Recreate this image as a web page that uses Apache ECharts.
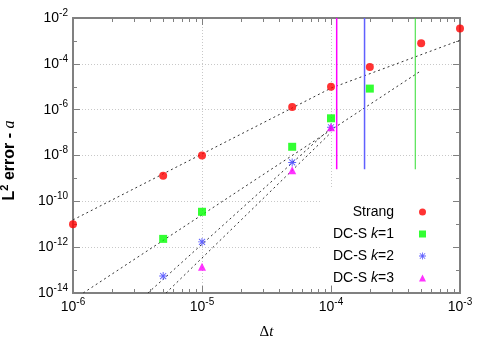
<!DOCTYPE html>
<html>
<head>
<meta charset="utf-8">
<script src="https://cdn.jsdelivr.net/npm/echarts@6/dist/echarts.min.js"></script>
<style>
html, body { margin: 0; padding: 0; background: #fff; }
#chart { width: 487px; height: 341px; }
</style>
</head>
<body>
<div id="chart"></div>
<script>
// 数据
const strangX = [1e-6, 5e-6, 1e-5, 5e-5, 1e-4, 2e-4, 5e-4, 1e-3];
const strangY = [1.0e-11, 1.3e-9, 1.0e-8, 1.3e-6, 1.0e-5, 7.2e-5, 8.0e-4, 3.5e-3];
const dcs1X = [5e-6, 1e-5, 5e-5, 1e-4, 2e-4];
const dcs1Y = [2.3e-12, 3.5e-11, 2.4e-8, 4.2e-7, 8.3e-6];
const dcs2X = [5e-6, 1e-5, 5e-5, 1e-4];
const dcs2Y = [5.5e-14, 1.7e-12, 5.0e-9, 1.7e-7];
const dcs3X = [1e-5, 5e-5, 1e-4];
const dcs3Y = [1.4e-13, 2.3e-9, 1.7e-7];

// 参考斜率线
const refStrangX = [1e-6, 1e-4, 1e-3];
const refStrangY = [1.55e-11, 8.7e-6, 1.07e-3];
const ref1X = [1.2e-6, 5e-4];
const ref1Y = [1e-14, 5.05e-5];
const ref2X = [3.81e-6, 1e-4];
const ref2Y = [1e-14, 1.6e-7];
const ref3X = [5.26e-6, 1e-4];
const ref3Y = [1e-14, 1e-7];

// 竖线 (稳定性限制)
const limitX = [1.107e-4, 1.82e-4, 4.5e-4];
const limitY = [1e-2, 2.5e-9];

const zip = (xs, ys) => xs.map((x, i) => [x, ys[i]]);

const FONT = 'Liberation Sans';
const AXIS_COLOR = '#808080';
const asterisk = 'path://M0,4.4H10V5.6H0Z M4.4,0H5.6V10H4.4Z M0.8,1.6L1.6,0.8L9.2,8.4L8.4,9.2Z M8.4,0.8L9.2,1.6L1.6,9.2L0.8,8.4Z';

const supLabel = (v) => {
    const e = Math.round(Math.log10(v));
    return '{b|10}{s|' + e + '}';
};
const labelRich = {
    b: { fontSize: 14, fontFamily: FONT, color: '#000', lineHeight: 20 },
    s: { fontSize: 10, fontFamily: FONT, color: '#000', verticalAlign: 'top', lineHeight: 10 }
};

const myChart = echarts.init(document.getElementById('chart'));

const refLine = (xs, ys) => ({
    type: 'line',
    data: zip(xs, ys),
    symbol: 'none',
    silent: true,
    z: 1,
    lineStyle: { color: '#333', width: 1, type: [2, 3] }
});
const vLine = (x, color, width) => ({
    type: 'line',
    data: limitY.map(y => [x, y]),
    symbol: 'none',
    silent: true,
    z: 1,
    lineStyle: { color: color, width: width }
});

const option = {
    animation: false,
    grid: { left: 73, right: 27, top: 18, bottom: 48, outerBoundsMode: 'none', containLabel: false },
    legend: {
        orient: 'vertical',
        align: 'right',
        right: 35,
        top: 189,
        padding: [16, 26, 0, 2],
        backgroundColor: '#fff',
        itemWidth: 7,
        itemHeight: 7,
        itemGap: 8,
        textStyle: {
            fontFamily: FONT, fontSize: 14, color: '#000', lineHeight: 14,
            width: 70, padding: [0, 20, 0, 0],
            rich: { i: { fontFamily: FONT, fontSize: 14, fontStyle: 'italic', color: '#000' } }
        },
        formatter: function (name) {
            return name.replace(/k=/, '{i|k}=');
        },
        data: ['Strang', 'DC-S k=1', 'DC-S k=2', 'DC-S k=3']
    },
    xAxis: [
        {
            type: 'log', position: 'bottom', min: 1e-6, max: 1e-3,
            name: '{d|Δ}{t|t}', nameLocation: 'middle', nameGap: 32,
            nameTextStyle: {
                rich: {
                    d: { fontSize: 15, fontFamily: 'Liberation Serif', color: '#000' },
                    t: { fontSize: 15, fontFamily: 'Liberation Serif', fontStyle: 'italic', color: '#000' }
                }
            },
            axisLine: { lineStyle: { color: AXIS_COLOR, width: 2 } },
            axisTick: { inside: true, length: 7, lineStyle: { color: AXIS_COLOR } },
            minorTick: { show: true, splitNumber: 9, length: 4, lineStyle: { color: AXIS_COLOR } },
            axisLabel: { margin: 4, formatter: supLabel, rich: labelRich },
            splitLine: { show: true, lineStyle: { color: '#c8c8c8', type: [1, 2] } }
        },
        {
            type: 'log', position: 'top', min: 1e-6, max: 1e-3,
            axisLine: { lineStyle: { color: AXIS_COLOR, width: 2 } },
            axisTick: { inside: true, length: 7, lineStyle: { color: AXIS_COLOR } },
            minorTick: { show: true, splitNumber: 9, length: 4, lineStyle: { color: AXIS_COLOR } },
            axisLabel: { show: false },
            splitLine: { show: false }
        }
    ],
    yAxis: [
        {
            // 数据轴, 奇数次幂的小刻度
            type: 'log', position: 'left', min: 1e-14, max: 1e-2, interval: 1,
            axisLine: { lineStyle: { color: AXIS_COLOR, width: 2 } },
            axisTick: { inside: true, length: 4, lineStyle: { color: AXIS_COLOR } },
            axisLabel: { show: false },
            splitLine: { show: false }
        },
        {
            type: 'log', logBase: 100, position: 'left', min: 1e-14, max: 1e-2,
            name: '{b|L}{s|2}{b| error - }{i|a}', nameLocation: 'middle', nameGap: 52,
            nameTextStyle: {
                padding: [0, 10, 0, 0],
                rich: {
                    b: { fontSize: 16, fontWeight: 'bold', fontFamily: FONT, color: '#000', lineHeight: 22 },
                    s: { fontSize: 11, fontWeight: 'bold', fontFamily: FONT, color: '#000', verticalAlign: 'top', lineHeight: 11 },
                    i: { fontSize: 16, fontStyle: 'italic', fontFamily: 'Liberation Serif', color: '#000', lineHeight: 22 }
                }
            },
            axisLine: { lineStyle: { color: AXIS_COLOR, width: 2 } },
            axisTick: { inside: true, length: 7, lineStyle: { color: AXIS_COLOR } },
            axisLabel: { margin: 5, formatter: supLabel, rich: labelRich },
            splitLine: { show: true, lineStyle: { color: '#c8c8c8', type: [1, 2] } }
        },
        {
            type: 'log', position: 'right', min: 1e-14, max: 1e-2, interval: 1,
            axisLine: { lineStyle: { color: AXIS_COLOR, width: 2 } },
            axisTick: { inside: true, length: 4, lineStyle: { color: AXIS_COLOR } },
            axisLabel: { show: false },
            splitLine: { show: false }
        },
        {
            type: 'log', logBase: 100, position: 'right', min: 1e-14, max: 1e-2,
            axisLine: { lineStyle: { color: AXIS_COLOR, width: 2 } },
            axisTick: { inside: true, length: 7, lineStyle: { color: AXIS_COLOR } },
            axisLabel: { show: false },
            splitLine: { show: false }
        }
    ],
    series: [
        refLine(refStrangX, refStrangY),
        refLine(ref1X, ref1Y),
        refLine(ref2X, ref2Y),
        refLine(ref3X, ref3Y),
        vLine(limitX[0], '#ff00ff', 1.5),
        vLine(limitX[1], '#6060ff', 1.5),
        vLine(limitX[2], '#30dd30', 1),
        {
            name: 'Strang', type: 'scatter', data: zip(strangX, strangY),
            symbol: 'circle', symbolSize: 8, itemStyle: { color: '#ff0000' }
        },
        {
            name: 'DC-S k=1', type: 'scatter', data: zip(dcs1X, dcs1Y),
            symbol: 'rect', symbolSize: 8, itemStyle: { color: '#00ff00' }
        },
        {
            name: 'DC-S k=2', type: 'scatter', data: zip(dcs2X, dcs2Y),
            symbol: asterisk, symbolSize: 8, itemStyle: { color: '#3a3aff' }
        },
        {
            name: 'DC-S k=3', type: 'scatter', data: zip(dcs3X, dcs3Y),
            symbol: 'triangle', symbolSize: 8, itemStyle: { color: '#ff00ff' }
        }
    ]
};
myChart.setOption(option);
window.addEventListener('resize', () => {
    myChart.resize();
});
</script>
</body>
</html>
